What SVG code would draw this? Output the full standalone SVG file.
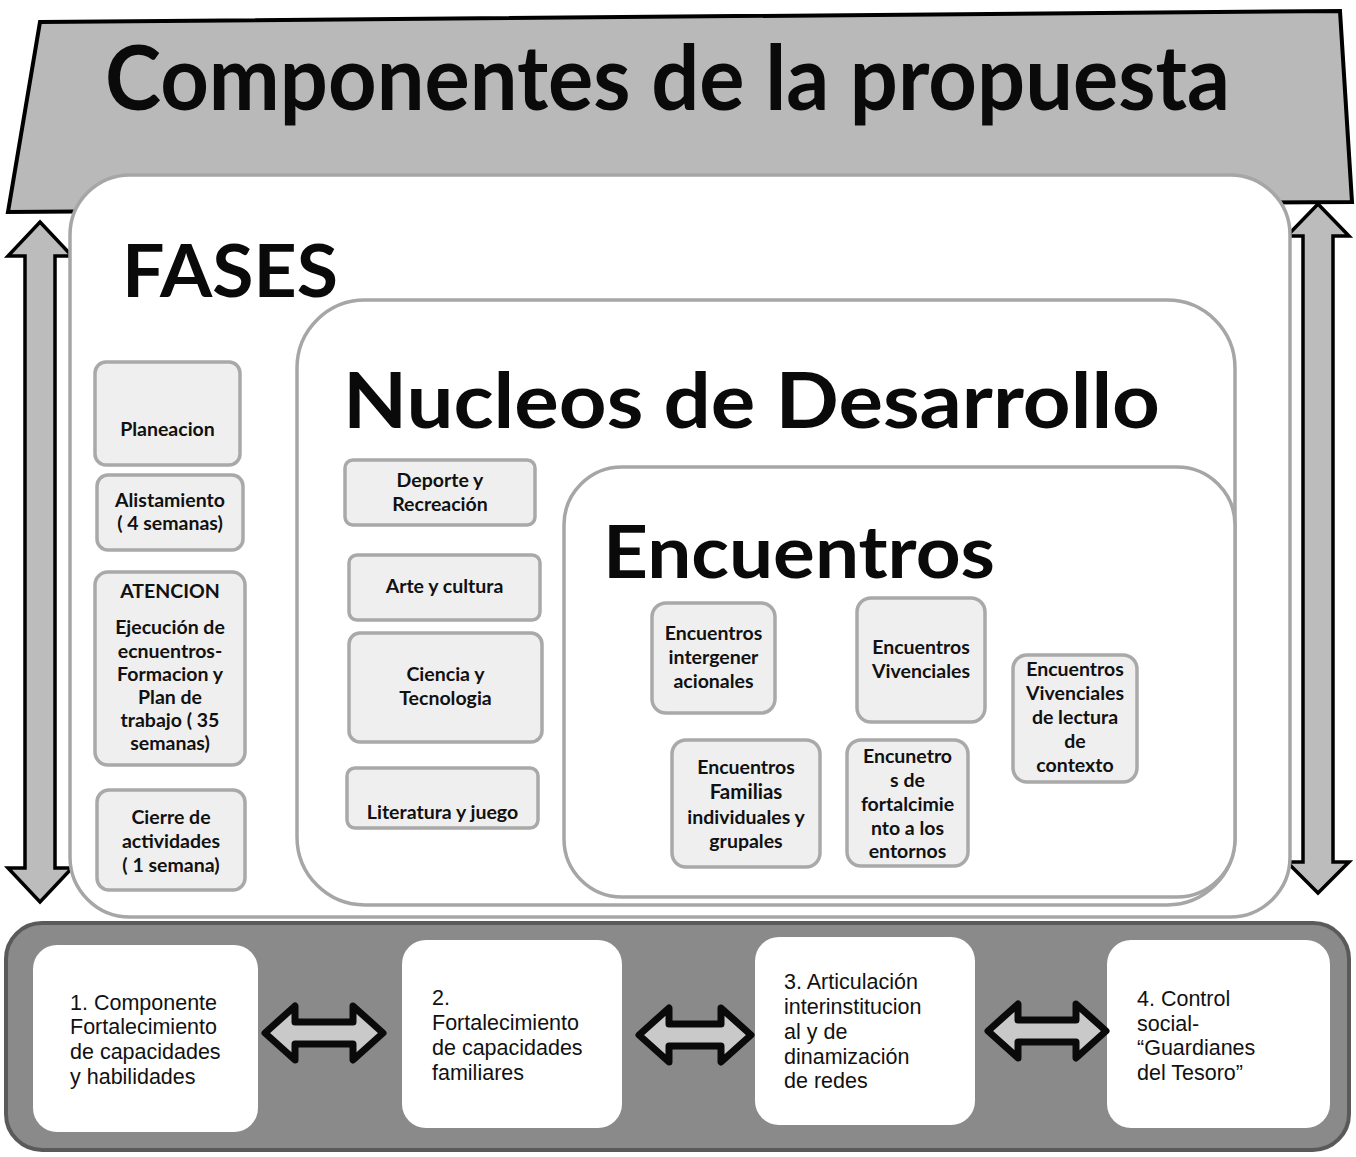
<svg xmlns="http://www.w3.org/2000/svg" width="1356" height="1157" viewBox="0 0 1356 1157">
<style>
.cal{font-family:Lato,"Open Sans","Liberation Sans",sans-serif;font-weight:bold;fill:#111}
.big{font-family:Lato,"Open Sans","Liberation Sans",sans-serif;font-weight:bold;fill:#0a0a0a}
.ari{font-family:"Liberation Sans",Arial,sans-serif;font-size:21.5px;fill:#111}
.box{fill:#efefef;stroke:#a9a9a9;stroke-width:3.5}
.cont{fill:#fff;stroke:#a6a6a6;stroke-width:3.5}
.wbox{fill:#fff;stroke:none}
.varrow{fill:#bcbcbc;stroke:#000;stroke-width:3.5;stroke-linejoin:miter}
.harrow{fill:#c9c9c9;stroke:#0a0a0a;stroke-width:7;stroke-linejoin:round}
.s18{font-size:19.5px}
</style>
<rect width="1356" height="1157" fill="#fff"/>

<g id="titulo">
<path d="M40,22 L1340,11 L1352,202 L8,212 Z" fill="#b9b9b9" stroke="#000" stroke-width="4" stroke-linejoin="miter"/>
<text class="big" x="105" y="110" font-size="90" textLength="1125" lengthAdjust="spacingAndGlyphs">Componentes de la propuesta</text>
</g>

<g id="connectors">
<path class="varrow" d="M40,222 L72,256 L55,256 L55,868 L72,868 L40,902 L8,868 L25,868 L25,256 L8,256 Z"/>
<path class="varrow" d="M1318,204 L1349,236 L1333,236 L1333,862 L1349,862 L1318,893 L1287,862 L1303,862 L1303,236 L1287,236 Z"/>
</g>

<g id="fases">
<rect class="cont" x="70" y="175" width="1220" height="742" rx="60"/>
<text class="big" x="122" y="297" font-size="73" textLength="216" lengthAdjust="spacingAndGlyphs">FASES</text>
</g>

<g id="fase-planeacion">
<rect class="box" x="95" y="362" width="145" height="103" rx="11"/>
<text class="cal s18" x="167.5" y="436" text-anchor="middle">Planeacion</text>
</g>
<g id="fase-alistamiento">
<rect class="box" x="97" y="475" width="146" height="75" rx="11"/>
<text class="cal s18" x="170" y="507" text-anchor="middle">Alistamiento</text>
<text class="cal s18" x="170" y="530" text-anchor="middle">( 4 semanas)</text>
</g>
<g id="fase-atencion">
<rect class="box" x="95" y="572" width="150" height="193" rx="13"/>
<text class="cal s18" x="170" y="598" text-anchor="middle">ATENCION</text>
<text class="cal s18" x="170" y="634" text-anchor="middle">Ejecución de</text>
<text class="cal s18" x="170" y="658" text-anchor="middle">ecnuentros-</text>
<text class="cal s18" x="170" y="681" text-anchor="middle">Formacion y</text>
<text class="cal s18" x="170" y="704" text-anchor="middle">Plan de</text>
<text class="cal s18" x="170" y="727" text-anchor="middle">trabajo ( 35</text>
<text class="cal s18" x="170" y="750" text-anchor="middle">semanas)</text>
</g>
<g id="fase-cierre">
<rect class="box" x="97" y="790" width="148" height="100" rx="12"/>
<text class="cal s18" x="171" y="824" text-anchor="middle">Cierre de</text>
<text class="cal s18" x="171" y="848" text-anchor="middle">actividades</text>
<text class="cal s18" x="171" y="872" text-anchor="middle">( 1 semana)</text>
</g>

<g id="nucleos">
<rect class="cont" x="297" y="300" width="938" height="605" rx="68"/>
<text class="big" x="343" y="428" font-size="76" textLength="817" lengthAdjust="spacingAndGlyphs">Nucleos de Desarrollo</text>
</g>

<g id="nucleo-deporte">
<rect class="box" x="345" y="460" width="190" height="65" rx="8"/>
<text class="cal s18" x="440" y="487" text-anchor="middle">Deporte y</text>
<text class="cal s18" x="440" y="511" text-anchor="middle">Recreación</text>
</g>
<g id="nucleo-arte">
<rect class="box" x="349" y="555" width="191" height="65" rx="8"/>
<text class="cal s18" x="444.5" y="593" text-anchor="middle">Arte y cultura</text>
</g>
<g id="nucleo-ciencia">
<rect class="box" x="349" y="633" width="193" height="109" rx="11"/>
<text class="cal s18" x="445.5" y="681" text-anchor="middle">Ciencia y</text>
<text class="cal s18" x="445.5" y="705" text-anchor="middle">Tecnologia</text>
</g>
<g id="nucleo-literatura">
<rect class="box" x="347" y="768" width="191" height="60" rx="8"/>
<text class="cal s18" x="442.5" y="819" text-anchor="middle">Literatura y juego</text>
</g>

<g id="encuentros">
<rect class="cont" x="564" y="467" width="671" height="430" rx="58"/>
<text class="big" x="603" y="578" font-size="72" textLength="392" lengthAdjust="spacingAndGlyphs">Encuentros</text>
</g>

<g id="enc-intergeneracionales">
<rect class="box" x="652" y="603" width="123" height="110" rx="14"/>
<text class="cal s18" x="713.5" y="640" text-anchor="middle">Encuentros</text>
<text class="cal s18" x="713.5" y="664" text-anchor="middle">intergener</text>
<text class="cal s18" x="713.5" y="688" text-anchor="middle">acionales</text>
</g>
<g id="enc-vivenciales">
<rect class="box" x="857" y="598" width="128" height="124" rx="14"/>
<text class="cal s18" x="921" y="654" text-anchor="middle">Encuentros</text>
<text class="cal s18" x="921" y="678" text-anchor="middle">Vivenciales</text>
</g>
<g id="enc-lectura">
<rect class="box" x="1013" y="655" width="124" height="127" rx="14"/>
<text class="cal s18" x="1075" y="676" text-anchor="middle">Encuentros</text>
<text class="cal s18" x="1075" y="700" text-anchor="middle">Vivenciales</text>
<text class="cal s18" x="1075" y="724" text-anchor="middle">de lectura</text>
<text class="cal s18" x="1075" y="748" text-anchor="middle">de</text>
<text class="cal s18" x="1075" y="772" text-anchor="middle">contexto</text>
</g>
<g id="enc-familias">
<rect class="box" x="672" y="740" width="148" height="127" rx="14"/>
<text class="cal s18" x="746" y="774" text-anchor="middle">Encuentros</text>
<text class="cal" x="746" y="799" font-size="20.5" text-anchor="middle">Familias</text>
<text class="cal s18" x="746" y="824" text-anchor="middle">individuales y</text>
<text class="cal s18" x="746" y="848" text-anchor="middle">grupales</text>
</g>
<g id="enc-entornos">
<rect class="box" x="847" y="740" width="121" height="126" rx="14"/>
<text class="cal s18" x="907.5" y="763" text-anchor="middle">Encunetro</text>
<text class="cal s18" x="907.5" y="787" text-anchor="middle">s de</text>
<text class="cal s18" x="907.5" y="811" text-anchor="middle">fortalcimie</text>
<text class="cal s18" x="907.5" y="835" text-anchor="middle">nto a los</text>
<text class="cal s18" x="907.5" y="858" text-anchor="middle">entornos</text>
</g>

<g id="componentes-banda">
<rect x="6" y="923" width="1343" height="227" rx="36" fill="#8a8a8a" stroke="#5a5a5a" stroke-width="4"/>
</g>

<g id="comp-1">
<rect class="wbox" x="33" y="945" width="225" height="187" rx="24"/>
<text class="ari" x="70" y="1010">1. Componente</text>
<text class="ari" x="70" y="1034">Fortalecimiento</text>
<text class="ari" x="70" y="1059">de capacidades</text>
<text class="ari" x="70" y="1084">y habilidades</text>
</g>
<g id="comp-2">
<rect class="wbox" x="402" y="940" width="220" height="188" rx="24"/>
<text class="ari" x="432" y="1005">2.</text>
<text class="ari" x="432" y="1030">Fortalecimiento</text>
<text class="ari" x="432" y="1055">de capacidades</text>
<text class="ari" x="432" y="1080">familiares</text>
</g>
<g id="comp-3">
<rect class="wbox" x="755" y="937" width="220" height="188" rx="24"/>
<text class="ari" x="784" y="989">3. Articulación</text>
<text class="ari" x="784" y="1014">interinstitucion</text>
<text class="ari" x="784" y="1039">al y de</text>
<text class="ari" x="784" y="1064">dinamización</text>
<text class="ari" x="784" y="1088">de redes</text>
</g>
<g id="comp-4">
<rect class="wbox" x="1107" y="940" width="223" height="188" rx="24"/>
<text class="ari" x="1137" y="1006">4. Control</text>
<text class="ari" x="1137" y="1031">social-</text>
<text class="ari" x="1137" y="1055">“Guardianes</text>
<text class="ari" x="1137" y="1080">del Tesoro”</text>
</g>

<g id="connectors-bottom">
<path class="harrow" d="M265,1033 L295,1006 L295,1022 L353,1022 L353,1006 L383,1033 L353,1060 L353,1044 L295,1044 L295,1060 Z"/>
<path class="harrow" d="M639,1035 L669,1008 L669,1024 L721,1024 L721,1008 L751,1035 L721,1062 L721,1046 L669,1046 L669,1062 Z"/>
<path class="harrow" d="M988,1031 L1018,1004 L1018,1020 L1076,1020 L1076,1004 L1106,1031 L1076,1058 L1076,1042 L1018,1042 L1018,1058 Z"/>
</g>
</svg>
